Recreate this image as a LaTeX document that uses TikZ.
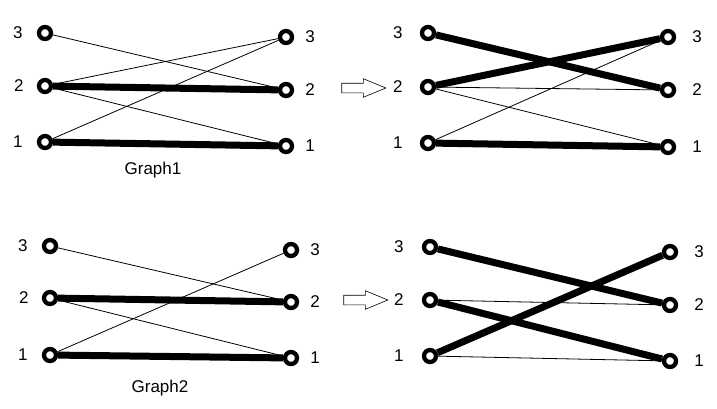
\documentclass[tikz,border=0pt]{standalone}
\usepackage{fontspec}
\setmainfont{Liberation Sans}
\usetikzlibrary{positioning,shapes.arrows}

\tikzset{
	vtx/.style={circle,draw,line width=4.3pt,minimum size=12pt,inner sep=0pt},
	thinedge/.style={line width=0.8pt},
	thickedge/.style={line width=7pt},
	num/.style={font=\fontsize{17}{20}\selectfont,inner sep=0pt},
	bigarrow/.style={single arrow,draw,line width=0.6pt,minimum height=44pt,inner xsep=0pt,inner ysep=4.5pt,
		single arrow head extend=4.5pt,single arrow tip angle=45},
}

\begin{document}
\begin{tikzpicture}[x=1pt,y=-1pt]
\useasboundingbox[fill=white] (0,0) rectangle (717,408);
% Graph1
\node[vtx] (A3) at (45,33) {};
\node[vtx] (A2) at (45,86) {};
\node[vtx] (A1) at (45,142) {};
\node[vtx] (B3) at (286,37) {};
\node[vtx] (B2) at (286,90) {};
\node[vtx] (B1) at (286,146) {};
\node[num,left=14pt of A3] (A3t) {3};
\node[num,left=13pt of A2] (A2t) {2};
\node[num,left=14pt of A1] (A1t) {1};
\node[num,right=11pt of B3] (B3t) {3};
\node[num,right=11pt of B2] (B2t) {2};
\node[num,right=11pt of B1] (B1t) {1};
\draw[thinedge] (A3) -- (B2);
\draw[thinedge] (A2) -- (B3);
\draw[thinedge] (A2) -- (B1);
\draw[thinedge] (A1) -- (B3);
\draw[thickedge] (A2) -- (B2);
\draw[thickedge] (A1) -- (B1);
\node[num] (g1) at (153,170) {Graph1};
\node[bigarrow] (arr1) at (358,88) {};
% matching of Graph1
\node[vtx] (C3) at (428,33) {};
\node[vtx] (C2) at (428,87) {};
\node[vtx] (C1) at (428,143) {};
\node[vtx] (D3) at (668,37) {};
\node[vtx] (D2) at (668,90) {};
\node[vtx] (D1) at (668,147) {};
\node[num,left=17pt of C3] (C3t) {3};
\node[num,left=17pt of C2] (C2t) {2};
\node[num,left=17pt of C1] (C1t) {1};
\node[num,right=16pt of D3] (D3t) {3};
\node[num,right=16pt of D2] (D2t) {2};
\node[num,right=16pt of D1] (D1t) {1};
\draw[thinedge] (C2) -- (D2);
\draw[thinedge] (C2) -- (D1);
\draw[thinedge] (C1) -- (D3);
\draw[thickedge] (C3) -- (D2);
\draw[thickedge] (C2) -- (D3);
\draw[thickedge] (C1) -- (D1);
% Graph2
\node[vtx] (E3) at (50,246) {};
\node[vtx] (E2) at (50,298) {};
\node[vtx] (E1) at (50,355) {};
\node[vtx] (F3) at (291,250) {};
\node[vtx] (F2) at (291,302) {};
\node[vtx] (F1) at (291,358) {};
\node[num,left=14pt of E3] (E3t) {3};
\node[num,left=13pt of E2] (E2t) {2};
\node[num,left=14pt of E1] (E1t) {1};
\node[num,right=11pt of F3] (F3t) {3};
\node[num,right=11pt of F2] (F2t) {2};
\node[num,right=11pt of F1] (F1t) {1};
\draw[thinedge] (E3) -- (F2);
\draw[thinedge] (E2) -- (F1);
\draw[thinedge] (E1) -- (F3);
\draw[thickedge] (E2) -- (F2);
\draw[thickedge] (E1) -- (F1);
\node[num] (g2) at (160,388) {Graph2};
\node[bigarrow] (arr2) at (360,300) {};
% matching of Graph2
\node[vtx] (G3) at (430,247) {};
\node[vtx] (G2) at (430,300) {};
\node[vtx] (G1) at (430,356) {};
\node[vtx] (H3) at (670,252) {};
\node[vtx] (H2) at (670,305) {};
\node[vtx] (H1) at (670,361) {};
\node[num,left=18pt of G3] (G3t) {3};
\node[num,left=18pt of G2] (G2t) {2};
\node[num,left=18pt of G1] (G1t) {1};
\node[num,right=16pt of H3] (H3t) {3};
\node[num,right=16pt of H2] (H2t) {2};
\node[num,right=16pt of H1] (H1t) {1};
\draw[thinedge] (G2) -- (H2);
\draw[thinedge] (G1) -- (H1);
\draw[thickedge] (G3) -- (H2);
\draw[thickedge] (G2) -- (H1);
\draw[thickedge] (G1) -- (H3);
\end{tikzpicture}
\end{document}
